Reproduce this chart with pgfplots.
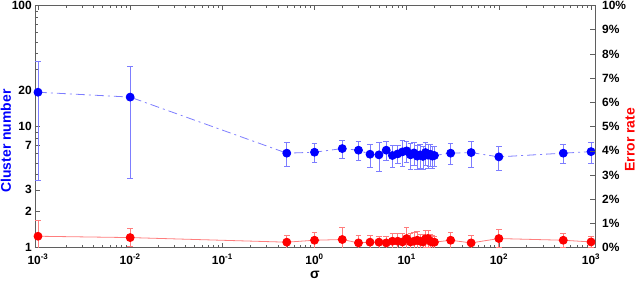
\documentclass[border=0pt]{standalone}
\usepackage{fontspec}
\setmainfont{Liberation Sans}
\usepackage{pgfplots}
\usepackage{pgfplotstable}
\pgfplotsset{compat=1.18}
\definecolor{lblue}{RGB}{125,125,255}
\definecolor{lred}{RGB}{255,125,125}
\definecolor{axgray}{RGB}{95,95,95}

\pgfplotstableread{
x      y     e
0.001  19.2  15.6
0.01   17.5  13.8
0.5    6.02  1.35
1      6.13  1.10
2      6.57  1.17
3      6.37  1.15
4      5.90  1.27
5      5.83  1.60
6      6.37  1.10
7      5.76  1.20
8      5.94  1.00
9      6.17  1.50
10     6.29  1.20
11     5.83  1.40
12     6.05  1.30
13     5.69  1.30
14     5.83  1.30
15     5.66  1.20
16     6.09  1.30
17     5.80  1.30
18     5.90  1.20
19     5.69  1.20
20     5.76  1.10
30     6.02  1.20
50     6.09  1.50
100    5.61  1.30
500    6.02  1.05
1000   6.20  1.25
}\clusters

\pgfplotstableread{
x      y     e
0.001  0.465 0.65
0.01   0.41  0.36
0.5    0.22  0.27
1      0.30  0.33
2      0.33  0.52
3      0.19  0.30
4      0.22  0.27
5      0.22  0.25
6      0.19  0.25
7      0.26  0.34
8      0.26  0.34
9      0.23  0.34
10     0.37  0.44
11     0.23  0.35
12     0.26  0.35
13     0.30  0.35
14     0.26  0.30
15     0.23  0.30
16     0.36  0.35
17     0.37  0.35
18     0.26  0.30
19     0.22  0.30
20     0.22  0.25
30     0.30  0.33
50     0.19  0.30
100    0.37  0.37
500    0.30  0.29
1000   0.23  0.24
}\errrate

\begin{document}
\begin{tikzpicture}
\path[use as bounding box] (-35bp,-33.5bp) rectangle (605bp,247.5bp);
\begin{axis}[
  at={(0,0)}, anchor=south west,
  scale only axis, width=560bp, height=242bp,
  xmode=log, ymode=log,
  xmin=0.000928, xmax=1104, ymin=1, ymax=100,
  axis line style={axgray},
  every tick/.style={axgray},
  tick align=inside,
  xtick pos=both, ytick pos=left,
  major tick length=5bp, minor tick length=3bp,
  xtick={0.001,0.01,0.1,1,10,100,1000},
  xticklabels={10\textsuperscript{-3},10\textsuperscript{-2},10\textsuperscript{-1},10\textsuperscript{0},10\textsuperscript{1},10\textsuperscript{2},10\textsuperscript{3}},
  minor xtick={0.002,0.003,0.004,0.005,0.006,0.007,0.008,0.009,
    0.02,0.03,0.04,0.05,0.06,0.07,0.08,0.09,
    0.2,0.3,0.4,0.5,0.6,0.7,0.8,0.9,
    2,3,4,5,6,7,8,9,20,30,40,50,60,70,80,90,
    200,300,400,500,600,700,800,900},
  ytick={1,2,3,7,10,20,100},
  yticklabels={1,2,3,7,10,20,100},
  minor ytick={4,5,6,8,9,30,40,50,60,70,80,90},
  ticklabel style={font=\bfseries\fontsize{12}{12}\selectfont, text=black, inner sep=1bp},
  xticklabel shift=5.5bp,
  yticklabel shift=2bp,
  xlabel={σ},
  xlabel style={at={(axis description cs:0.5,-0.112)}, anchor=center, inner sep=0bp, font=\bfseries\fontsize{14}{14}\selectfont},
  ylabel={Cluster number},
  ylabel style={at={(axis description cs:-0.0518,0.44)}, anchor=center, rotate=0, inner sep=1bp, font=\bfseries\fontsize{14}{14}\selectfont, text=blue},
]
\addplot[lblue, line width=0.8bp, dash pattern=on 9bp off 4bp on 2bp off 4bp,
  mark=*, mark size=4bp, mark options={solid, fill=blue, draw=blue},
  error bars/.cd, y dir=both, y explicit,
  error bar style={lblue, line width=0.8bp, solid},
  error mark options={rotate=90, lblue, mark size=2.8bp, line width=0.8bp, solid}]
  table[x=x, y=y, y error=e]{\clusters};
\end{axis}
\begin{axis}[
  at={(0,0)}, anchor=south west,
  scale only axis, width=560bp, height=242bp,
  xmode=log, xmin=0.000928, xmax=1104, ymin=0, ymax=10,
  axis x line=none, axis y line*=right,
  axis line style={axgray, -},
  every tick/.style={axgray},
  tick align=inside,
  major tick length=5bp,
  ytick={0,1,2,3,4,5,6,7,8,9,10},
  yticklabels={0\%,1\%,2\%,3\%,4\%,5\%,6\%,7\%,8\%,9\%,10\%},
  ticklabel style={font=\bfseries\fontsize{12}{12}\selectfont, text=black, inner sep=1bp},
  yticklabel shift=6bp,
  ylabel={Error rate},
  ylabel style={at={(axis description cs:1.0625,0.445)}, anchor=center, rotate=0, inner sep=1bp, font=\bfseries\fontsize{14}{14}\selectfont, text=red},
]
\addplot[lred, line width=0.8bp,
  mark=*, mark size=4bp, mark options={fill=red, draw=red},
  error bars/.cd, y dir=both, y explicit,
  error bar style={lred, line width=0.8bp},
  error mark options={rotate=90, lred, mark size=2.8bp, line width=0.8bp}]
  table[x=x, y=y, y error=e]{\errrate};
\end{axis}
\end{tikzpicture}
\end{document}
